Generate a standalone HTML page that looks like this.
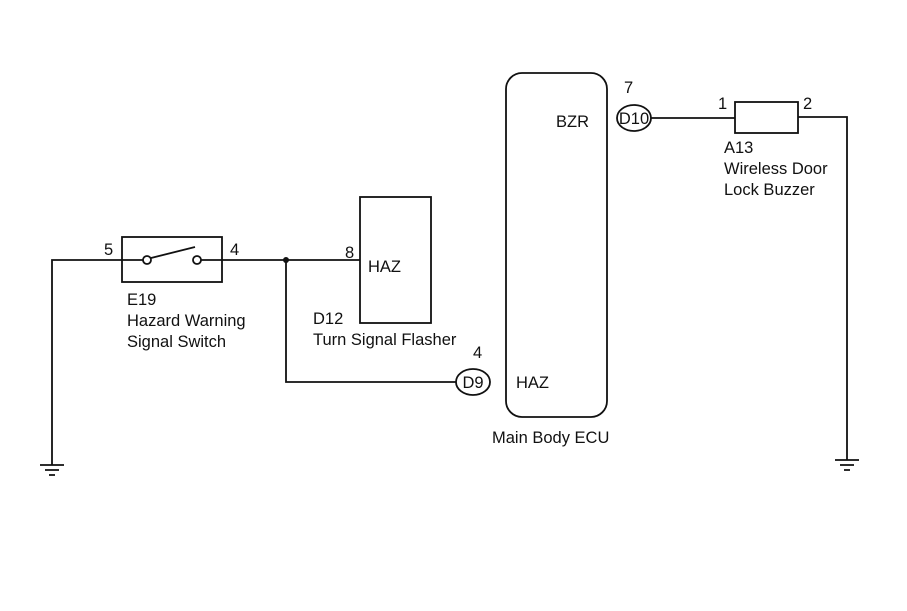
<!DOCTYPE html>
<html><head><style>body{margin:0;background:#fff}svg{display:block}text{font-family:"Liberation Sans",Arial,sans-serif;font-size:16.5px;fill:#111}</style></head><body>
<svg width="907" height="611" viewBox="0 0 907 611" xmlns="http://www.w3.org/2000/svg">
<g stroke="#111" stroke-width="1.8" fill="none">
<path d="M52 465 V260 H122 M222 260 H360 M286 260 V382 H456"/>
<rect x="122" y="237" width="100" height="45" fill="#fff"/>
<path d="M122 260 H143 M201 260 H222"/>
<circle cx="147" cy="260" r="4" fill="#fff"/>
<circle cx="197" cy="260" r="4" fill="#fff"/>
<path d="M151 258 L195 247"/>
<rect x="360" y="197" width="71" height="126"/>
<rect x="506" y="73" width="101" height="344" rx="16"/>
<ellipse cx="473" cy="382" rx="17" ry="13"/>
<ellipse cx="634" cy="118" rx="17" ry="13"/>
<path d="M651 118 H735 M798 117 H847 V460"/>
<rect x="735" y="102" width="63" height="31"/>
<path d="M40 465 H64 M45 470 H59 M49 475 H55"/>
<path d="M835 460 H859 M840 465 H854 M844 470 H850"/>
</g>
<circle cx="286" cy="260" r="3" fill="#111"/>
<text x="104" y="255">5</text><text x="230" y="255">4</text>
<text x="127" y="305">E19</text><text x="127" y="326">Hazard Warning</text><text x="127" y="347">Signal Switch</text>
<text x="345" y="258">8</text><text x="368" y="272" font-size="17">HAZ</text>
<text x="313" y="324">D12</text><text x="313" y="345">Turn Signal Flasher</text>
<text x="473" y="358">4</text><text x="473" y="388" text-anchor="middle">D9</text>
<text x="516" y="388">HAZ</text><text x="492" y="443">Main Body ECU</text>
<text x="556" y="127">BZR</text><text x="624" y="93">7</text><text x="634" y="124" text-anchor="middle" font-size="15">D10</text>
<text x="718" y="109">1</text><text x="803" y="109">2</text>
<text x="724" y="153">A13</text><text x="724" y="174">Wireless Door</text><text x="724" y="195">Lock Buzzer</text>
</svg>
</body></html>
